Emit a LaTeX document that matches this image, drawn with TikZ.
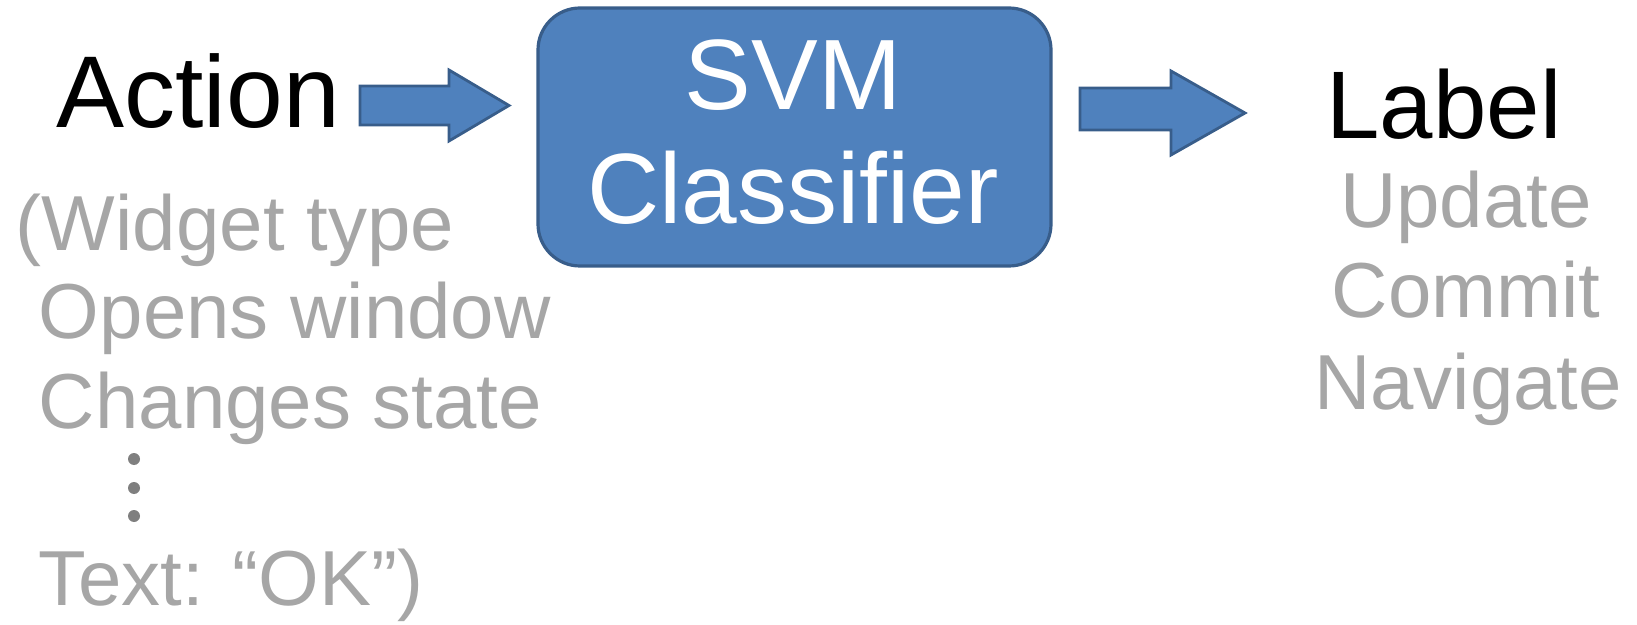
\documentclass[tikz,border=0pt]{standalone}
\usepackage{fontspec}
\setmainfont{Liberation Sans}
\definecolor{boxfill}{HTML}{4F81BD}
\definecolor{boxline}{HTML}{385D8A}
\definecolor{graytext}{HTML}{A6A6A6}
\definecolor{dotgray}{HTML}{7F7F7F}
\newcommand{\fsz}[1]{\fontsize{#1}{#1}\selectfont}
\begin{document}
\begin{tikzpicture}[x=0.5pt,y=-0.5pt,
  every node/.style={inner sep=0pt,outer sep=0pt},
  bigtext/.style={font=\fsz{51pt}, text=black},
  graytxt/.style={font=\fsz{39pt}, text=graytext},
  boxtext/.style={font=\fsz{50pt}, text=white},
  blockarrow/.style={fill=boxfill, draw=boxline, line width=1.4pt, line join=miter},
  classbox/.style={draw=boxline, fill=boxfill, line width=1.6pt, rounded corners=21pt,
     minimum width=256.5pt, minimum height=129pt}]
\useasboundingbox (0,0) rectangle (1637,625);

% classifier box
\node[classbox] (box) at (794.5,137) {};
\node[boxtext, anchor=base] (svm) at (793,110) {SVM};
\node[boxtext, anchor=base] (cls) at (793,224) {Classifier};

% left side
\node[bigtext, anchor=base] (action) at (198,128) {Action};
\node[graytxt, anchor=base west] (l1) at (16,251) {(Widget type};
\node[graytxt, anchor=base west] (l2) at (39,339) {Opens window};
\node[graytxt, anchor=base west] (l3) at (39,428) {Changes state};
\node[graytxt, anchor=base west] (l4) at (39,605) {Text: “OK”)};
\fill[dotgray] (134,459) circle (6) (134,488) circle (6) (134,516) circle (6);

% right side
\node[bigtext, anchor=base, font=\fsz{48pt}] (label) at (1444,139) {Label};
\node[graytxt, anchor=base] (r1) at (1466,228) {Update};
\node[graytxt, anchor=base] (r2) at (1466,318) {Commit};
\node[graytxt, anchor=base] (r3) at (1468,409) {Navigate};

% block arrows
\draw[blockarrow] (360,86) -- (449,86) -- (449,70) -- (509,105.5) -- (449,141) -- (449,125) -- (360,125) -- cycle;
\draw[blockarrow] (1080,88) -- (1171,88) -- (1171,71) -- (1245,113) -- (1171,155) -- (1171,130) -- (1080,130) -- cycle;
\end{tikzpicture}
\end{document}
